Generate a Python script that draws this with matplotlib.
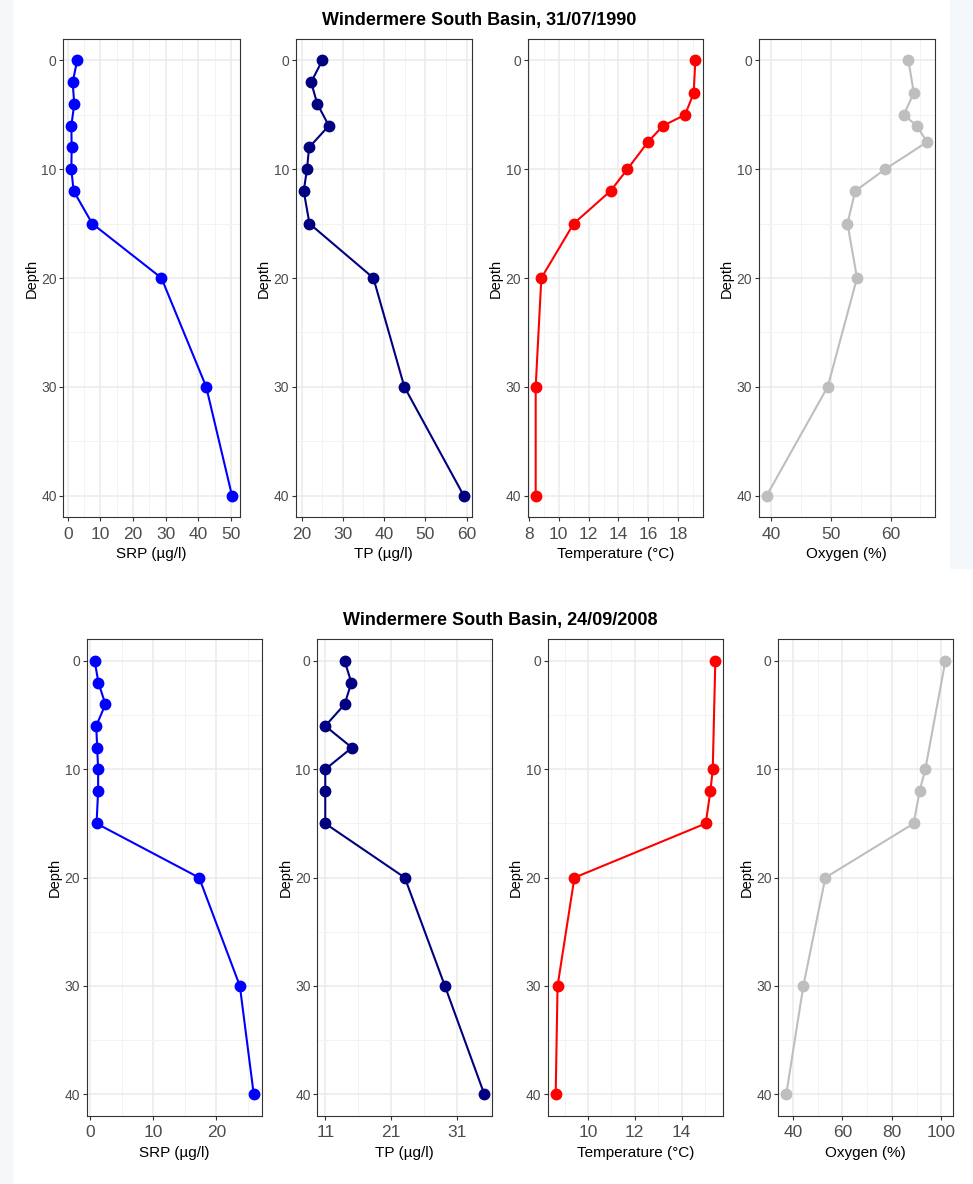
import matplotlib
matplotlib.use('Agg')
import matplotlib.pyplot as plt
from matplotlib.patches import Rectangle

plt.rcParams['font.family'] = ['Liberation Sans', 'DejaVu Sans']

# --- data ---
depth_nut = [0, 2, 4, 6, 8, 10, 12, 15, 20, 30, 40]

srp_1990 = [2.9, 1.5, 2.0, 1.1, 1.2, 1.1, 1.8, 7.5, 28.7, 42.4, 50.3]
tp_1990 = [25.0, 22.3, 23.8, 26.6, 21.8, 21.3, 20.5, 21.9, 37.4, 44.9, 59.3]
depth_phys_1990 = [0, 3, 5, 6, 7.5, 10, 12, 15, 20, 30, 40]
temp_1990 = [19.16, 19.05, 18.47, 17.0, 15.98, 14.6, 13.47, 11.0, 8.83, 8.45, 8.45]
oxy_1990 = [63.0, 63.9, 62.2, 64.4, 66.1, 59.1, 54.1, 52.8, 54.4, 49.5, 39.3]

srp_2008 = [0.7, 1.3, 2.4, 0.95, 1.1, 1.25, 1.25, 1.0, 17.25, 23.7, 25.9]
tp_2008 = [13.95, 14.97, 13.95, 11.0, 15.06, 11.0, 11.0, 11.0, 23.1, 29.2, 35.2]
depth_phys_2008 = [0, 10, 12, 15, 20, 30, 40]
temp_2008 = [15.44, 15.33, 15.23, 15.03, 9.42, 8.70, 8.62]
oxy_2008 = [101.6, 93.5, 91.2, 88.8, 53.1, 44.2, 37.3]

depth_ticks = [0, 10, 20, 30, 40]
srp_ticks_1990 = [0, 10, 20, 30, 40, 50]
tp_ticks_1990 = [20, 30, 40, 50, 60]
temp_ticks_1990 = [8, 10, 12, 14, 16, 18]
oxy_ticks_1990 = [40, 50, 60]
srp_ticks_2008 = [0, 10, 20]
tp_ticks_2008 = [11, 21, 31]
temp_ticks_2008 = [10, 12, 14]
oxy_ticks_2008 = [40, 60, 80, 100]

title_1990 = 'Windermere South Basin, 31/07/1990'
title_2008 = 'Windermere South Basin, 24/09/2008'

W, H = 973, 1184
fig = plt.figure(figsize=(W / 100, H / 100), dpi=100)

# light screenshot border strips
fig.patches.append(Rectangle((0, 0), 12 / W, 1, transform=fig.transFigure,
                             color='#F4F8FA', zorder=-10))
fig.patches.append(Rectangle((950 / W, 1 - 568 / H), 23 / W, 568 / H,
                             transform=fig.transFigure, color='#F4F8FA', zorder=-10))


def px_axes(x0, y0, x1, y1):
    return fig.add_axes([x0 / W, 1 - y1 / H, (x1 - x0) / W, (y1 - y0) / H])


def minors(major, lo, hi):
    step = major[1] - major[0]
    m = [major[0] - step / 2] + [b + step / 2 for b in major]
    return [v for v in m if lo < v < hi]


def panel(box, x, depth, colour, xlabel, xticks):
    ax = px_axes(*box)
    ax.plot(x, depth, '-o', color=colour, lw=1.5, ms=7.5, zorder=3)
    ax.margins(0.05)
    xlim = ax.get_xlim()
    ylim = ax.get_ylim()
    ax.set_xticks(xticks)
    ax.set_xticks(minors(xticks, *xlim), minor=True)
    ax.set_yticks(depth_ticks)
    ax.set_yticks(minors(depth_ticks, *ylim), minor=True)
    ax.set_xlim(xlim)
    ax.set_ylim(ylim[1], ylim[0])
    ax.set_axisbelow(True)
    ax.grid(which='major', color='#EBEBEB', lw=1.1)
    ax.grid(which='minor', color='#F3F3F3', lw=0.7)
    for s in ax.spines.values():
        s.set_color('#333333')
        s.set_linewidth(0.8)
    ax.tick_params(which='major', length=2.75, width=0.8, color='#333333',
                   labelcolor='#4D4D4D')
    ax.tick_params(which='minor', length=0)
    ax.tick_params(axis='y', labelsize=10, pad=2)
    ax.tick_params(axis='x', labelsize=12.5, pad=4)
    ax.set_xlabel(xlabel, fontsize=11, labelpad=4)
    ax.set_ylabel('Depth', fontsize=10.5, labelpad=2)
    return ax


top = (38.7, 517.3)
panel((63.3, top[0], 240.0, top[1]), srp_1990, depth_nut, '#0000FF', 'SRP (µg/l)', srp_ticks_1990)
panel((295.7, top[0], 471.7, top[1]), tp_1990, depth_nut, '#000080', 'TP (µg/l)', tp_ticks_1990)
panel((527.7, top[0], 703.3, top[1]), temp_1990, depth_phys_1990, '#FF0000', 'Temperature (°C)', temp_ticks_1990)
panel((758.7, top[0], 935.0, top[1]), oxy_1990, depth_phys_1990, '#BEBEBE', 'Oxygen (%)', oxy_ticks_1990)

bot = (639.3, 1116.0)
panel((86.7, bot[0], 261.7, bot[1]), srp_2008, depth_nut, '#0000FF', 'SRP (µg/l)', srp_ticks_2008)
panel((317.3, bot[0], 492.3, bot[1]), tp_2008, depth_nut, '#000080', 'TP (µg/l)', tp_ticks_2008)
panel((547.7, bot[0], 723.3, bot[1]), temp_2008, depth_phys_2008, '#FF0000', 'Temperature (°C)', temp_ticks_2008)
panel((778.3, bot[0], 953.3, bot[1]), oxy_2008, depth_phys_2008, '#BEBEBE', 'Oxygen (%)', oxy_ticks_2008)

fig.text(479 / W, 1 - 20 / H, title_1990, ha='center', va='center',
         fontsize=13, fontweight='bold')
fig.text(500 / W, 1 - 621 / H, title_2008, ha='center', va='center',
         fontsize=13, fontweight='bold')

fig.savefig('out.png', dpi=100)
